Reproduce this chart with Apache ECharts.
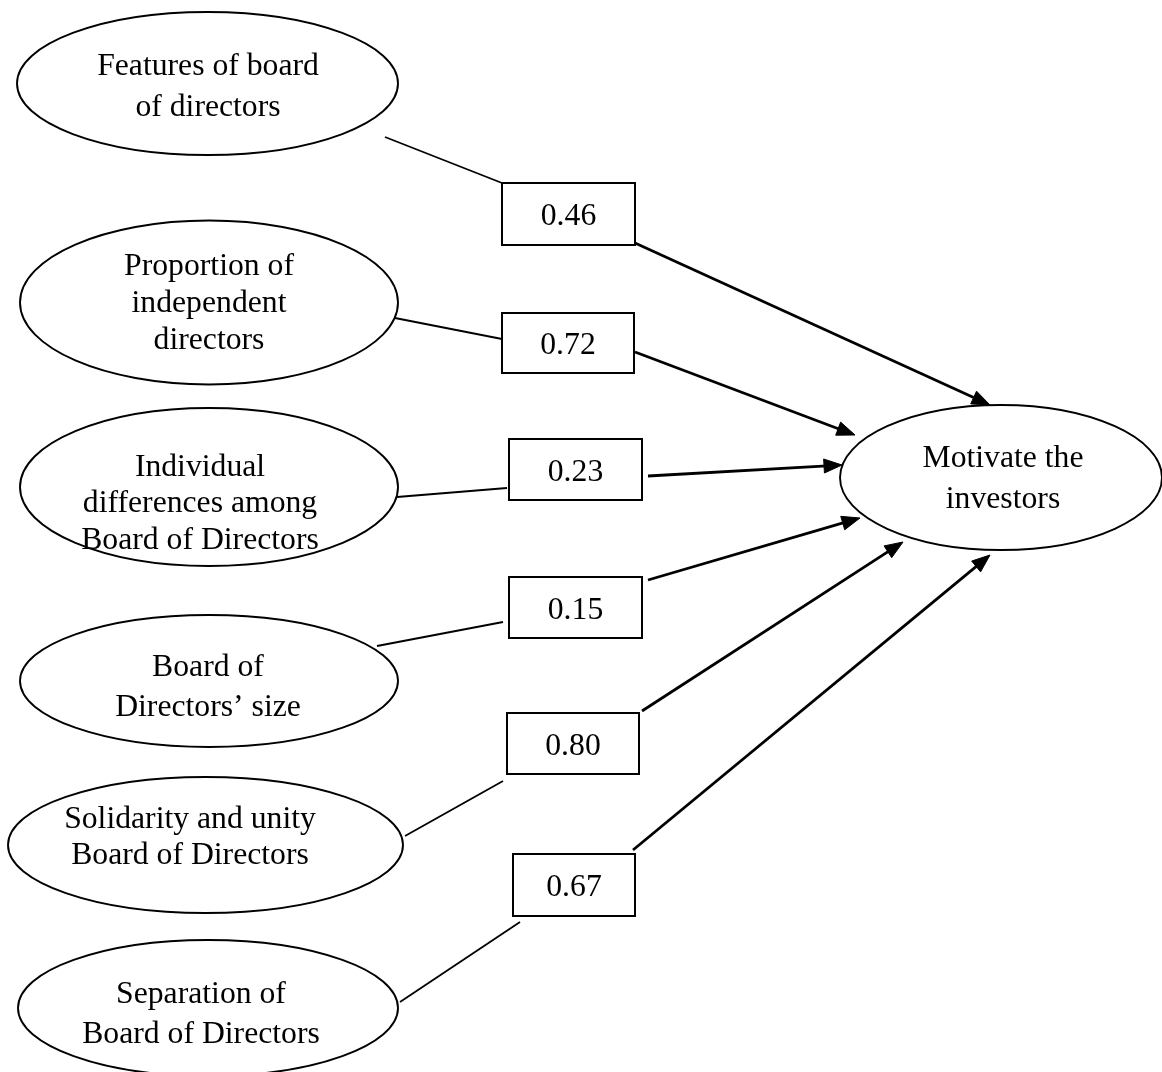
<!DOCTYPE html>
<html><head><meta charset="utf-8">
<script src="https://cdn.jsdelivr.net/npm/echarts@6/dist/echarts.min.js"></script>
<style>html,body{margin:0;padding:0;background:#fff}#c{width:1162px;height:1072px}</style>
</head><body><div id="c"></div>
<script>
// ---- data ----
const sourceLabels = [
  ['Features of board', 'of directors'],
  ['Proportion of', 'independent', 'directors'],
  ['Individual', 'differences among', 'Board of Directors'],
  ['Board of', 'Directors\u2019 size'],
  ['Solidarity and unity', 'Board of Directors'],
  ['Separation of', 'Board of Directors']
];
const targetLabel = ['Motivate the', 'investors'];
const coefficients = [0.46, 0.72, 0.23, 0.15, 0.80, 0.67];

// ---- layout (diagram units on hidden axes) ----
const sourceEllipses = [
  {cx: 207.5, cy: 83.5, rx: 190.5, ry: 71.5, tx: 208, ty: [64, 105]},
  {cx: 209, cy: 302.5, rx: 189, ry: 82, tx: 209, ty: [264, 301, 338]},
  {cx: 209, cy: 487, rx: 189, ry: 79, tx: 200, ty: [465, 501, 538]},
  {cx: 209, cy: 681, rx: 189, ry: 66, tx: 208, ty: [665, 705]},
  {cx: 205.5, cy: 845, rx: 197.5, ry: 68, tx: 190, ty: [817, 853]},
  {cx: 208, cy: 1008, rx: 190, ry: 68, tx: 201, ty: [992, 1032]}
];
const targetEllipse = {cx: 1001, cy: 477.5, rx: 161, ry: 72.5, tx: 1003, ty: [456, 497]};
const boxes = [[502,183,635,245],[502,313,634,373],[509,439,642,500],[509,577,642,638],[507,713,639,774],[513,854,635,916]];
const inLinks = [[385,137,502,183],[395,318,502,339],[397,497,507,488],[377,646,503,622],[405,836,503,781],[400,1002,520,922]];
const outLinks = [[635,243,990,405],[635,352,855,435],[648,476,842,465],[648,580,860,518],[642,711,903,542],[633,850,990,555]];

const FONT = 'Liberation Serif, Times New Roman, serif';
const FS = 31.7;
const TEXT_DY = 3;

const nodes = sourceEllipses.map((e, i) => Object.assign({lines: sourceLabels[i]}, e));
nodes.push(Object.assign({lines: targetLabel}, targetEllipse));

const chart = echarts.init(document.getElementById('c'), null, {renderer: 'canvas'});

function textEl(api, x, y, str) {
  const p = api.coord([x, y + TEXT_DY]);
  return {type: 'text', x: p[0], y: p[1], silent: true,
    style: {text: str, fontFamily: FONT, fontSize: FS, fill: '#000', align: 'center', verticalAlign: 'middle'}};
}

chart.setOption({
  animation: false,
  backgroundColor: '#fff',
  grid: {left: 0, right: 0, top: 0, bottom: 0},
  xAxis: {type: 'value', min: 0, max: 1162, show: false},
  yAxis: {type: 'value', min: 0, max: 1072, inverse: true, show: false},
  series: [
    {
      type: 'custom',
      coordinateSystem: 'cartesian2d',
      data: nodes.map((n, i) => [n.cx, n.cy, i]),
      renderItem: function (params, api) {
        const n = nodes[params.dataIndex];
        const c = api.coord([n.cx, n.cy]);
        const s = api.size([n.rx, n.ry]);
        const children = [{
          type: 'ellipse',
          shape: {cx: c[0], cy: c[1], rx: s[0], ry: s[1]},
          style: {fill: '#fff', stroke: '#000', lineWidth: 1.9}
        }];
        n.lines.forEach((ln, k) => children.push(textEl(api, n.tx, n.ty[k], ln)));
        return {type: 'group', children: children};
      },
      z: 2
    },
    {
      type: 'custom',
      coordinateSystem: 'cartesian2d',
      data: coefficients.map((v, i) => [boxes[i][0], boxes[i][1], v]),
      renderItem: function (params, api) {
        const i = params.dataIndex;
        const v = api.value(2);
        const b = boxes[i];
        const p0 = api.coord([b[0], b[1]]);
        const p1 = api.coord([b[2], b[3]]);
        const children = [];
        const a0 = api.coord([inLinks[i][0], inLinks[i][1]]);
        const a1 = api.coord([inLinks[i][2], inLinks[i][3]]);
        children.push({type: 'line', shape: {x1: a0[0], y1: a0[1], x2: a1[0], y2: a1[1]},
          style: {stroke: '#000', lineWidth: 1.8}});
        children.push({type: 'rect', shape: {x: p0[0], y: p0[1], width: p1[0] - p0[0], height: p1[1] - p0[1]},
          style: {fill: '#fff', stroke: '#000', lineWidth: 2}});
        children.push(textEl(api, (b[0] + b[2]) / 2, (b[1] + b[3]) / 2, v.toFixed(2)));
        const o0 = api.coord([outLinks[i][0], outLinks[i][1]]);
        const o1 = api.coord([outLinks[i][2], outLinks[i][3]]);
        const dx = o1[0] - o0[0], dy = o1[1] - o0[1];
        const len = Math.sqrt(dx * dx + dy * dy);
        const ux = dx / len, uy = dy / len;
        const L = 18, W = 7;
        const bx = o1[0] - ux * L, by = o1[1] - uy * L;
        children.push({type: 'line', shape: {x1: o0[0], y1: o0[1], x2: bx + ux * 3, y2: by + uy * 3},
          style: {stroke: '#000', lineWidth: 2.8}});
        children.push({type: 'polygon', shape: {points: [[o1[0], o1[1]], [bx - uy * W, by + ux * W], [bx + uy * W, by - ux * W]]},
          style: {fill: '#000', stroke: '#000', lineWidth: 1}});
        return {type: 'group', children: children};
      },
      z: 3
    }
  ]
});
</script>
</body></html>
